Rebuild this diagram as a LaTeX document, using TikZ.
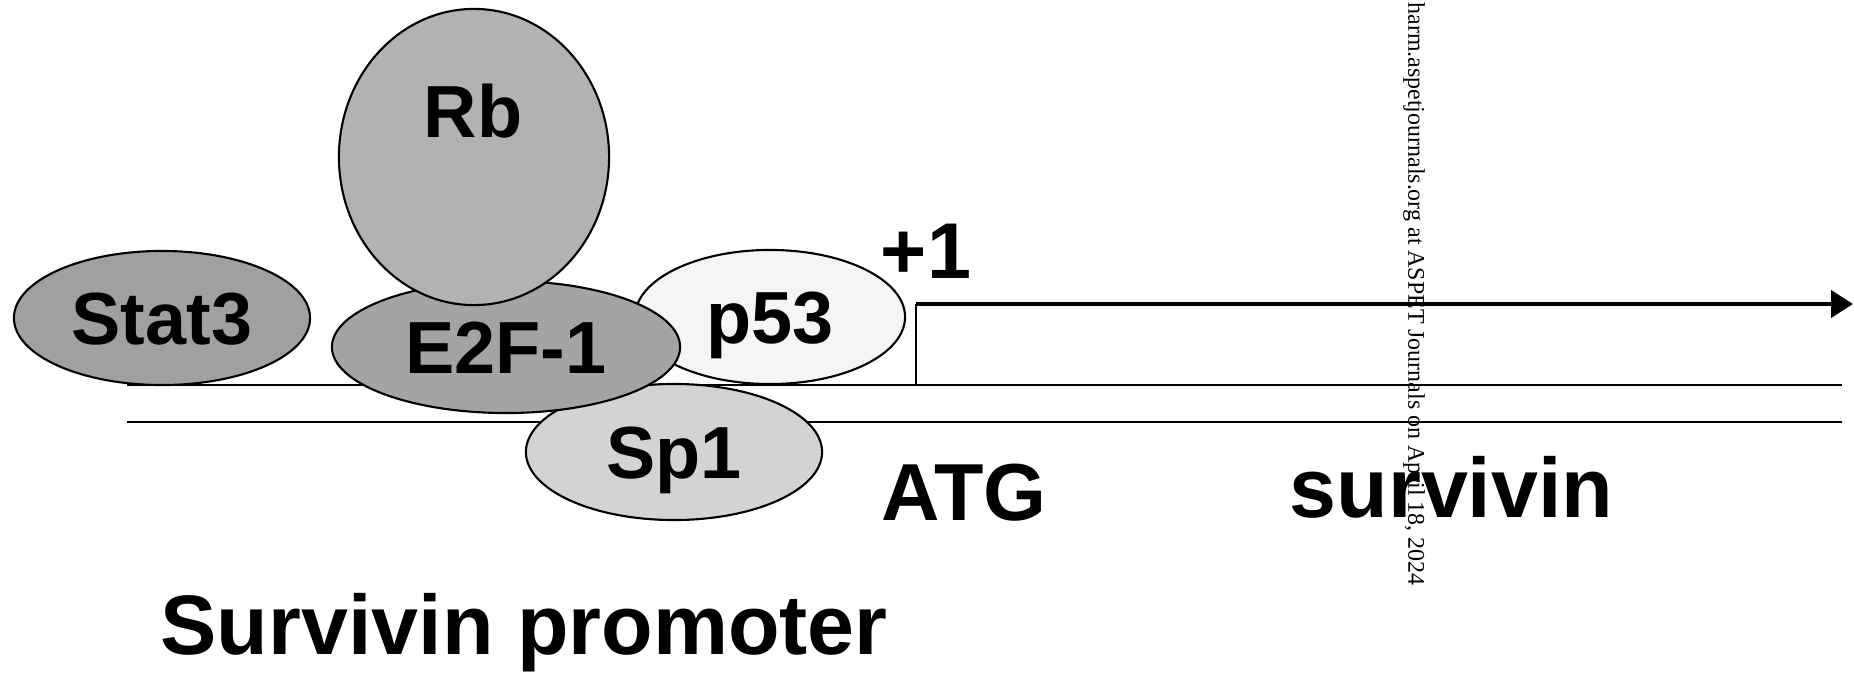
\documentclass[tikz,border=0pt]{standalone}
\usepackage{fontspec}
\setmainfont{Liberation Sans}
\newfontfamily\wmfont{Liberation Serif}
\usetikzlibrary{shapes.geometric,arrows.meta}

\definecolor{rbgray}{HTML}{B2B2B2}
\definecolor{statgray}{HTML}{A0A0A0}
\definecolor{e2fgray}{HTML}{A4A4A4}
\definecolor{p53gray}{HTML}{F5F5F5}
\definecolor{sp1gray}{HTML}{D3D3D3}

\tikzset{
	protein/.style={ellipse, draw=black, line width=0.6pt, inner sep=0pt,
		text height=0.53cm, text depth=0pt,
		font=\fontsize{21}{24}\bfseries\selectfont},
	dna/.style={line width=0.75pt},
	tag/.style={inner sep=0pt, anchor=base, font=\bfseries\selectfont}
}

\begin{document}
\begin{tikzpicture}[x={(0.01cm,0)}, y={(0,-0.01cm)}]
	\clip (0,0) rectangle (1854,676);
	% double strand
	\coordinate (up1) at (127,385);
	\coordinate (up2) at (1842,385);
	\coordinate (lo1) at (127,422);
	\coordinate (lo2) at (1842,422);
	\draw[dna] (up1) -- (up2);
	\draw[dna] (lo1) -- (lo2);
	% transcription start
	\coordinate (tss) at (916,385);
	\coordinate (bend) at (916,304);
	\coordinate (tip) at (1853,304);
	\draw[line width=0.45pt] (tss) -- (bend);
	\draw[line width=1.2pt, -{Triangle[length=0.22cm,width=0.27cm]}] (bend) -- (tip);
	% bound factors
	\node[protein, fill=sp1gray, minimum width=2.96cm, minimum height=1.36cm] (sp1) at (674,452) {Sp1};
	\node[protein, fill=p53gray, minimum width=2.70cm, minimum height=1.34cm] (p53) at (770,317) {p53};
	\node[protein, fill=statgray, minimum width=2.96cm, minimum height=1.34cm] (stat3) at (162,318) {Stat3};
	\node[protein, fill=e2fgray, minimum width=3.48cm, minimum height=1.32cm] (e2f) at (506,347) {E2F-1};
	\node[protein, fill=rbgray, minimum width=2.70cm, minimum height=2.96cm] (rb) at (474,157) {};
	\node[tag, font=\fontsize{21}{24}\bfseries\selectfont] (rbtext) at (473,138) {Rb};
	% labels
	\node[tag, font=\fontsize{22.5}{26}\bfseries\selectfont] (plusone) at (926,278) {+1};
	\node[tag, anchor=base west, font=\fontsize{23}{26}\bfseries\selectfont] (atg) at (881,520) {ATG};
	\node[tag, anchor=base west, font=\fontsize{24}{28}\bfseries\selectfont] (gene) at (1289,517) {survivin};
	\node[tag, anchor=base west, font=\fontsize{24}{28}\bfseries\selectfont] (promoter) at (160,654) {Survivin promoter};
	% side note
	\node[rotate=-90, anchor=west, inner sep=0pt, font=\wmfont\fontsize{6.8}{8}\selectfont] (note) at (1414,2)
		{harm.aspetjournals.org at ASPET Journals on April 18, 2024};
\end{tikzpicture}
\end{document}
